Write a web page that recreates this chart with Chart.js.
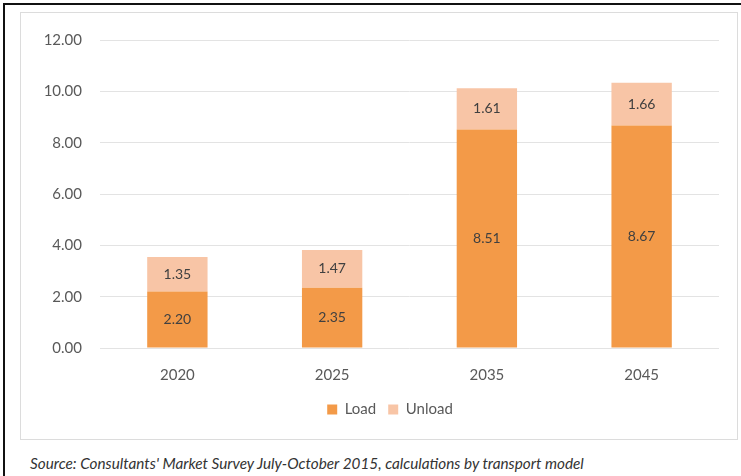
<!DOCTYPE html>
<html>
<head>
<meta charset="utf-8">
<script src="https://cdn.jsdelivr.net/npm/chart.js@4"></script>
<style>
  html,body{margin:0;padding:0;background:#fff;}
  body{width:741px;height:476px;position:relative;overflow:hidden;font-family:Lato,"Open Sans",sans-serif;}
  .frame{position:absolute;left:3px;top:3px;width:800px;height:600px;border-left:2px solid #111;border-top:2px solid #111;}
  .box{position:absolute;left:20px;top:12px;width:718px;height:428px;border:1px solid #dcdcdc;box-sizing:border-box;}
  .box canvas{position:absolute;left:0;top:0;}
  .source{position:absolute;left:30px;top:454px;font-style:italic;font-size:15.3px;color:#333;white-space:nowrap;}
</style>
</head>
<body>
<div class="frame"></div>
<div class="box"><canvas id="chart" width="718" height="428"></canvas></div>
<div class="source">Source: Consultants' Market Survey July-October 2015, calculations by transport model</div>
<script>
const years = ["2020","2025","2035","2045"];
const load = [2.20, 2.35, 8.51, 8.67];
const unload = [1.35, 1.47, 1.61, 1.66];
const yTicks = [0, 2, 4, 6, 8, 10, 12];

const FONT = "Lato, 'Open Sans', sans-serif";

// value labels drawn in the middle of each segment
const barLabels = {
  id: "barLabels",
  afterDatasetsDraw(chart) {
    const c = chart.ctx;
    c.save();
    c.font = "14px " + FONT;
    c.fillStyle = "#404040";
    c.textAlign = "center";
    c.textBaseline = "middle";
    chart.data.datasets.forEach((ds, i) => {
      chart.getDatasetMeta(i).data.forEach((bar, j) => {
        const mid = (bar.y + bar.base) / 2;
        c.fillText(ds.data[j].toFixed(2), bar.x, mid);
      });
    });
    c.restore();
  }
};

// nudge the legend a bit to the right, like the original
const legendShift = {
  id: "legendShift",
  afterLayout(chart) {
    if (chart.legend) {
      chart.legend.left += 20;
      chart.legend.right += 20;
    }
  }
};

new Chart(document.getElementById("chart"), {
  type: "bar",
  data: {
    labels: years,
    datasets: [
      { label: "Load", data: load, backgroundColor: "#F39A48", barPercentage: 0.78, categoryPercentage: 0.5 },
      { label: "Unload", data: unload, backgroundColor: "#F8C5A6", barPercentage: 0.78, categoryPercentage: 0.5 }
    ]
  },
  options: {
    responsive: false,
    animation: false,
    layout: { padding: { left: 0, right: 20, top: 19, bottom: 14 } },
    plugins: {
      tooltip: { enabled: false },
      legend: {
        position: "bottom",
        labels: {
          usePointStyle: true,
          pointStyle: "rect",
          boxWidth: 10,
          boxHeight: 10,
          padding: 12,
          color: "#595959",
          font: { family: FONT, size: 15 }
        }
      }
    },
    scales: {
      x: {
        stacked: true,
        grid: { display: false },
        border: { display: false },
        ticks: { color: "#595959", padding: 10, font: { family: FONT, size: 15 } },
        afterFit: s => { s.height = 42; }
      },
      y: {
        stacked: true,
        min: 0,
        max: 12,
        afterBuildTicks: s => { s.ticks = yTicks.map(v => ({ value: v })); },
        grid: { color: "#e3e3e3", drawTicks: false },
        border: { display: false },
        ticks: {
          color: "#595959",
          padding: 18,
          font: { family: FONT, size: 15 },
          callback: v => v.toFixed(2)
        },
        afterFit: s => { s.width = 79; }
      }
    }
  },
  plugins: [barLabels, legendShift]
});
</script>
</body>
</html>
